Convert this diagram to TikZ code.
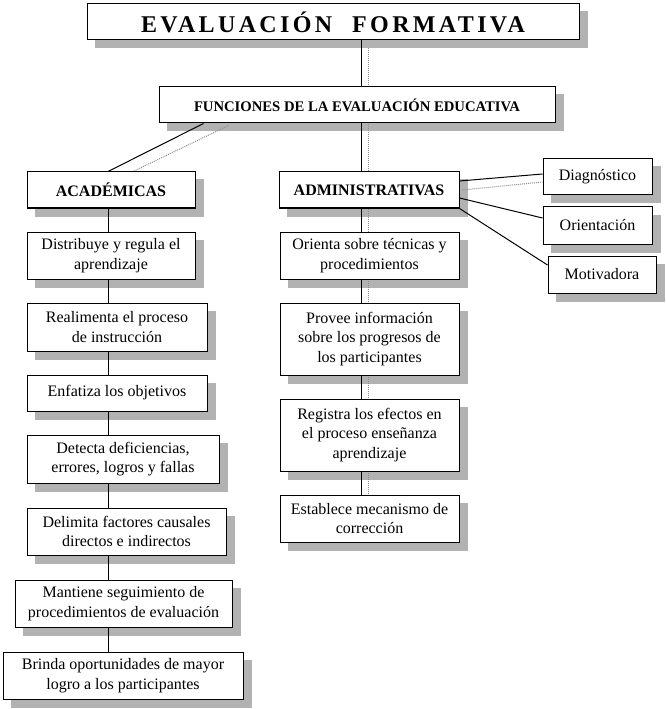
\documentclass[tikz,border=0pt]{standalone}
\usepackage{fontspec}
\setmainfont{Liberation Serif}
\usetikzlibrary{positioning,calc,backgrounds}

\begin{document}
\begin{tikzpicture}[
    x=0.75pt,
    y=-0.75pt,
    block/.style={
        rectangle,
        draw=black,
        fill=white,
        line width=0.75pt,
        align=center,
        inner sep=0pt,
        font=\fontsize{12}{14.6}\selectfont
    },
    headblock/.style={
        block,
        font=\fontsize{12}{14.6}\selectfont\bfseries
    },
    link/.style={
        line width=0.75pt,
        draw=black
    },
    shadowlink/.style={
        line width=0.75pt,
        draw=black!45,
        dash pattern=on 0.75pt off 0.75pt
    }
]

\definecolor{shadowgray}{RGB}{178,178,178}

\useasboundingbox (0,0) rectangle (665,709);

% Title and main function
\node[block, minimum width=369pt, minimum height=27pt,
      font=\fontsize{18}{20}\selectfont\bfseries\addfontfeature{LetterSpace=14}] (title) at (333,22)
      {EVALUACIÓN\hspace{15pt}FORMATIVA};
\node[block, minimum width=297pt, minimum height=27pt,
      font=\fontsize{11}{13}\selectfont\bfseries] (fun) at (357,105)
      {FUNCIONES DE LA EVALUACIÓN EDUCATIVA};

% Two branches
\node[headblock, minimum width=126pt, minimum height=27pt] (aca) at (111,190) {ACADÉMICAS};
\node[headblock, minimum width=135pt, minimum height=27pt] (adm) at (369,190) {ADMINISTRATIVAS};

% Side boxes
\node[block, minimum width=81.75pt, minimum height=27pt] (diag) at (597.5,177) {Diagnóstico};
\node[block, minimum width=81.75pt, minimum height=27.75pt] (ori) at (597.5,225.5) {Orientación};
\node[block, minimum width=81pt, minimum height=27.75pt] (mot) at (602,274.5) {Motivadora};

% Academic column
\node[block, minimum width=126pt, minimum height=35.25pt] (a1) at (111,255.5)
      {Distribuye y regula el\\aprendizaje};
\node[block, minimum width=135pt, minimum height=36pt] (a2) at (117,327)
      {Realimenta el proceso\\de instrucción};
\node[block, minimum width=135pt, minimum height=27pt] (a3) at (117,393)
      {Enfatiza los objetivos};
\node[block, minimum width=144pt, minimum height=36pt] (a4) at (123,459)
      {Detecta deficiencias,\\errores, logros y fallas};
\node[block, minimum width=149.25pt, minimum height=35.25pt] (a5) at (126.5,531.5)
      {Delimita factores causales\\directos e indirectos};
\node[block, minimum width=162.75pt, minimum height=35.25pt] (a6) at (123.5,603.5)
      {Mantiene seguimiento de\\procedimientos de evaluación};
\node[block, minimum width=180pt, minimum height=35.25pt] (a7) at (123,675.5)
      {Brinda oportunidades de mayor\\logro a los participantes};

% Administrative column
\node[block, minimum width=134.25pt, minimum height=35.25pt] (d1) at (369.5,255.5)
      {Orienta sobre técnicas y\\procedimientos};
\node[block, minimum width=134.25pt, minimum height=54pt] (d2) at (369.5,339)
      {Provee información\\sobre los progresos de\\los participantes};
\node[block, minimum width=134.25pt, minimum height=54pt] (d3) at (369.5,435)
      {Registra los efectos en\\el proceso enseñanza\\aprendizaje};
\node[block, minimum width=134.25pt, minimum height=35.25pt] (d4) at (369.5,518.5)
      {Establece mecanismo de\\corrección};

% Trunk positions
\coordinate (rtrunk) at (361,0);
\coordinate (ltrunk) at (108,0);

\begin{scope}[on background layer]
% Box shadows
\foreach \n in {title,fun,aca,adm,diag,ori,mot,a1,a2,a3,a4,a5,a6,a7,d1,d2,d3,d4}
    \fill[shadowgray] ($(\n.south west)+(8,8)$) rectangle ($(\n.north east)+(8,8)$);

% Connectors
\draw[link] (title.south -| rtrunk) -- (d4.north -| rtrunk);
\draw[shadowlink] ($(title.south -| rtrunk)+(7,8)$) -- ($(d4.north -| rtrunk)+(7,0)$);
\draw[link] ($(fun.south west)+(45,0)$) -- (aca.north -| ltrunk);
\draw[shadowlink] ($(fun.south west)+(70,2)$) -- ($(aca.north -| ltrunk)+(25,0)$);
\draw[link] (aca.south -| ltrunk) -- (a7.north -| ltrunk);
\draw[link] ($(adm.east)+(0,-9)$) -- ($(diag.west)+(0,-3)$);
\draw[shadowlink] ($(adm.east)+(3,0)$) -- ($(diag.west)+(0,5)$);
\draw[link] ($(adm.east)+(0,8)$) -- ($(ori.west)+(0,-7.5)$);
\draw[link] (adm.south east) -- ($(mot.west)+(0,-9.5)$);
\end{scope}

\end{tikzpicture}
\end{document}
